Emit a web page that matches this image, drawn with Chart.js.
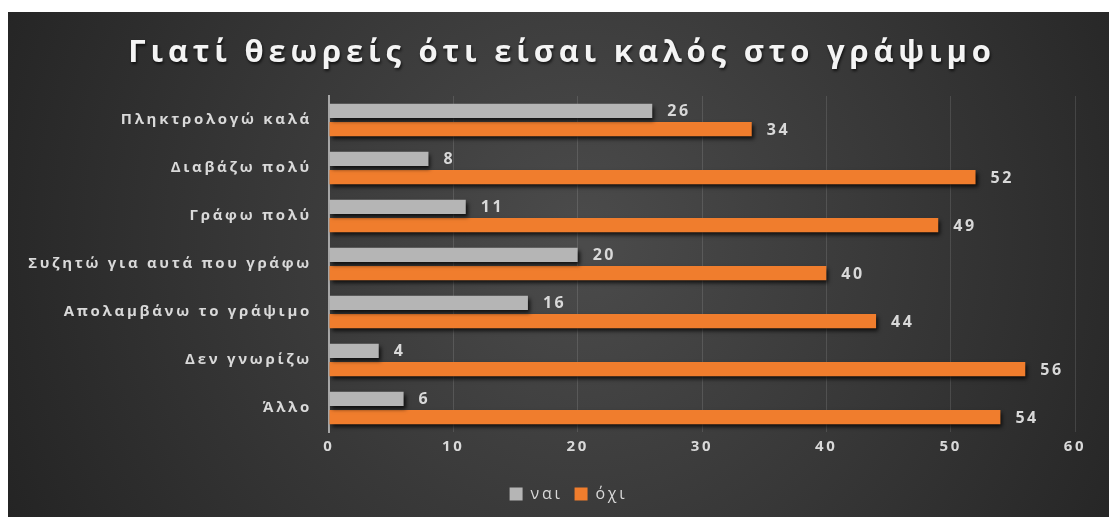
<!DOCTYPE html>
<html>
<head>
<meta charset="utf-8">
<script src="https://cdn.jsdelivr.net/npm/chart.js@4"></script>
<style>
  html, body { margin: 0; background: #ffffff; }
  #wrap { position: absolute; left: 8px; top: 12px; width: 1101px; height: 505px; }
</style>
</head>
<body>
<div id="wrap"><canvas id="chart"></canvas></div>
<script>
// Απαντήσεις ανά λόγο
const chartTitle = 'Γιατί θεωρείς ότι είσαι καλός στο γράψιμο';
const reasons = [
  'Πληκτρολογώ καλά',
  'Διαβάζω πολύ',
  'Γράφω πολύ',
  'Συζητώ για αυτά που γράφω',
  'Απολαμβάνω το γράψιμο',
  'Δεν γνωρίζω',
  'Άλλο'
];
const yesValues = [26, 8, 11, 20, 16, 4, 6];
const noValues = [34, 52, 49, 40, 44, 56, 54];
const seriesNames = ['ναι', 'όχι'];
const axisMin = 0, axisMax = 60, axisStep = 10;

const textColor = '#d9d9d9';
const font = '"Open Sans", "DejaVu Sans", sans-serif';
const spacing = '2.7px';

// dark radial background + spaced title
const backdrop = {
  id: 'backdrop',
  beforeUpdate(chart) {
    chart.ctx.letterSpacing = spacing;
  },
  beforeDraw(chart) {
    const { ctx, width, height } = chart;
    const g = ctx.createRadialGradient(width * 0.52, height * 0.45, 10, width * 0.52, height * 0.45, width * 0.58);
    g.addColorStop(0, '#4b4b4b');
    g.addColorStop(1, '#242424');
    ctx.save();
    ctx.fillStyle = g;
    ctx.fillRect(0, 0, width, height);

    ctx.font = 'bold 31px ' + font;
    ctx.letterSpacing = '4.8px';
    ctx.fillStyle = '#f4f4f4';
    ctx.textAlign = 'center';
    ctx.textBaseline = 'alphabetic';
    ctx.shadowColor = 'rgba(0,0,0,0.7)';
    ctx.shadowOffsetX = 1;
    ctx.shadowOffsetY = 2;
    ctx.shadowBlur = 3;
    ctx.fillText(chartTitle, 554, 50);
    ctx.restore();
    ctx.letterSpacing = spacing;
  }
};

// bar shadows + value labels
const barExtras = {
  id: 'barExtras',
  beforeDatasetsDraw(chart) {
    const ctx = chart.ctx;
    ctx.save();
    ctx.shadowColor = 'rgba(0,0,0,0.75)';
    ctx.shadowOffsetX = 2;
    ctx.shadowOffsetY = 3;
    ctx.shadowBlur = 4;
  },
  afterDatasetsDraw(chart) {
    const ctx = chart.ctx;
    ctx.restore();
    ctx.save();
    ctx.font = 'bold 16px ' + font;
    ctx.letterSpacing = '2.5px';
    ctx.fillStyle = textColor;
    ctx.textBaseline = 'middle';
    chart.data.datasets.forEach((ds, i) => {
      chart.getDatasetMeta(i).data.forEach((bar, j) => {
        ctx.fillText(String(ds.data[j]), bar.x + 15, bar.y + 1);
      });
    });
    ctx.restore();
  }
};

// legend nudged right of centre
const legendShift = {
  id: 'legendShift',
  afterLayout(chart) {
    const dx = 27;
    chart.legend.left += dx;
    chart.legend.right += dx;
  }
};

new Chart(document.getElementById('chart'), {
  type: 'bar',
  data: {
    labels: reasons,
    datasets: [
      { label: seriesNames[0], data: yesValues, backgroundColor: '#b5b5b5' },
      { label: seriesNames[1], data: noValues, backgroundColor: '#f07d2d' }
    ]
  },
  options: {
    indexAxis: 'y',
    responsive: true,
    maintainAspectRatio: false,
    animation: false,
    datasets: { bar: { categoryPercentage: 0.76, barPercentage: 0.78 } },
    layout: { padding: { left: 0, right: 34, top: 84, bottom: 5 } },
    scales: {
      x: {
        min: axisMin, max: axisMax,
        ticks: { stepSize: axisStep, color: textColor, font: { family: font, size: 15, weight: 'bold' }, padding: 6 },
        grid: { color: ctx => ctx.index === 0 ? 'rgba(0,0,0,0)' : 'rgba(255,255,255,0.12)', drawTicks: false },
        border: { display: false },
        afterFit: s => { s.height = 42; }
      },
      y: {
        ticks: { color: textColor, font: { family: font, size: 15, weight: 'bold' }, padding: 17 },
        grid: { display: false, drawTicks: false },
        border: { color: '#a6a6a6', width: 2 },
        afterFit: s => { s.width = 321; }
      }
    },
    plugins: {
      title: { display: false },
      legend: {
        position: 'bottom',
        labels: { color: textColor, boxWidth: 13, boxHeight: 13, padding: 12, font: { family: font, size: 16 } }
      },
      tooltip: { enabled: false }
    }
  },
  plugins: [backdrop, barExtras, legendShift]
});
</script>
</body>
</html>
